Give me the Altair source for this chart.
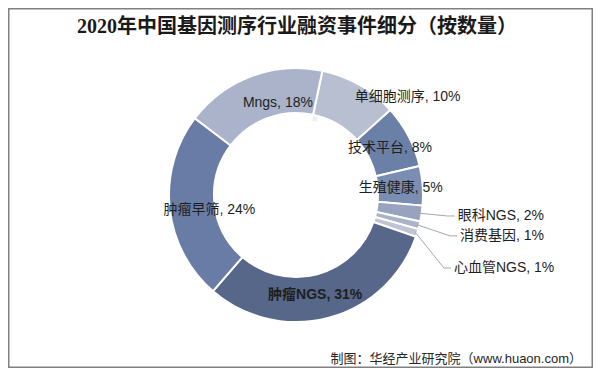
import altair as alt
import pandas as pd

# ---- data ----
categories = ["单细胞测序", "技术平台", "生殖健康", "眼科NGS", "消费基因",
              "心血管NGS", "肿瘤NGS", "肿瘤早筛", "Mngs"]
shares = [10, 8, 5, 2, 1, 1, 31, 24, 18]
colors = ["#b8bfd0", "#6b80a6", "#7b8db0", "#98a4bf", "#abb3c8",
          "#bfc5d4", "#566789", "#687ca5", "#aab3c9"]

title_text = "2020年中国基因测序行业融资事件细分（按数量）"
source_text = "制图：华经产业研究院（www.huaon.com）"

# ---- label layout (pixels / degrees) ----
label_radius = [114, 105, 105, 163, 169, 174, 102, 88, 94]
label_nudge = [1, 1, 0.4, -1, 0.2, 7.4, 4.2, -3.8, 9.3]
label_group = ["left", "center", "center", "out", "out", "out",
               "bold", "center", "center"]

W, H = 585, 360
CX, CY = 288, 187
R_OUT, R_IN = 127, 82
START_DEG = 12
PI = 3.141592653589793

df = pd.DataFrame({
    "cat": categories, "share": shares, "idx": list(range(len(categories))),
    "lr": label_radius, "nudge": label_nudge, "grp": label_group,
})

FONT = "Liberation Sans, Arial, Noto Sans CJK SC"

base = alt.Chart(df)

ring_shadow = alt.Chart(pd.DataFrame({"v": [1]})).mark_arc(
    innerRadius=R_IN - 5, outerRadius=R_IN, color="#efeff2"
).encode(theta=alt.Theta("v:Q"), x=alt.value(CX), y=alt.value(CY + 1))

arcs = base.mark_arc(
    innerRadius=R_IN, outerRadius=R_OUT, stroke="white", strokeWidth=2
).encode(
    theta=alt.Theta("share:Q", stack=True,
                    scale=alt.Scale(range=[START_DEG * PI / 180,
                                           START_DEG * PI / 180 + 2 * PI])),
    order=alt.Order("idx:Q"),
    color=alt.Color("cat:N", scale=alt.Scale(domain=categories, range=colors), legend=None),
    x=alt.value(CX), y=alt.value(CY),
)

pos = (
    base.transform_joinaggregate(total="sum(share)")
    .transform_window(cum="sum(share)", sort=[alt.SortField("idx")], frame=[None, 0])
    .transform_calculate(
        mid=f"({START_DEG} + (datum.cum - datum.share / 2) * 360 / datum.total) * PI / 180",
        ang=f"({START_DEG} + (datum.cum - datum.share / 2) * 360 / datum.total + datum.nudge) * PI / 180",
        label="datum.cat + ', ' + datum.share + '%'",
    )
    .transform_calculate(
        lx=f"{CX} + datum.lr * sin(datum.ang)",
        ly=f"{CY} - datum.lr * cos(datum.ang)",
        ex=f"{CX} + {R_OUT - 2} * sin(datum.mid)",
        ey=f"{CY} - {R_OUT - 2} * cos(datum.mid)",
    )
    .transform_calculate(
        bx="datum.lx - 10",
        hx="datum.lx - 3",
    )
)

X = lambda f: alt.X(f, scale=None, axis=None)
Y = lambda f: alt.Y(f, scale=None, axis=None)

def text_layer(group, align, weight="normal"):
    return pos.transform_filter(alt.datum.grp == group).mark_text(
        align=align, baseline="middle", font=FONT, fontSize=14,
        fontWeight=weight, color="#1e1e1e"
    ).encode(x=X("lx:Q"), y=Y("ly:Q"), text="label:N")

leader1 = pos.transform_filter(alt.datum.grp == "out").mark_rule(
    color="#a6a6a6", strokeWidth=1
).encode(x=X("ex:Q"), y=Y("ey:Q"), x2="bx:Q", y2="ly:Q")

leader2 = pos.transform_filter(alt.datum.grp == "out").mark_rule(
    color="#a6a6a6", strokeWidth=1
).encode(x=X("bx:Q"), y=Y("ly:Q"), x2="hx:Q", y2="ly:Q")

one = pd.DataFrame({"t": [title_text], "s": [source_text]})

title = alt.Chart(one).mark_text(
    align="center", baseline="middle", font="Liberation Serif, Noto Sans CJK SC",
    fontSize=20, fontWeight="bold", color="#1a1a1a"
).encode(x=alt.value(289), y=alt.value(19), text="t:N")

source = alt.Chart(one).mark_text(
    align="right", baseline="middle", font=FONT, fontSize=13, color="#262626"
).encode(x=alt.value(574), y=alt.value(351), text="s:N")

border = alt.Chart(one).mark_rect(
    fill=None, stroke="#808080", strokeWidth=1.5
).encode(x=alt.value(0.75), x2=alt.value(W - 0.75), y=alt.value(0.75), y2=alt.value(H - 0.75))

chart = alt.layer(
    border, ring_shadow, arcs, leader1, leader2,
    text_layer("center", "center"), text_layer("left", "left"),
    text_layer("out", "left"), text_layer("bold", "center", "bold"),
    title, source,
).properties(
    width=W, height=H, autosize=alt.AutoSizeParams(type="none"), padding=0,
    background="white",
).configure_view(stroke=None)

chart.save("out.html", embed_options={"renderer": "svg", "actions": False})
